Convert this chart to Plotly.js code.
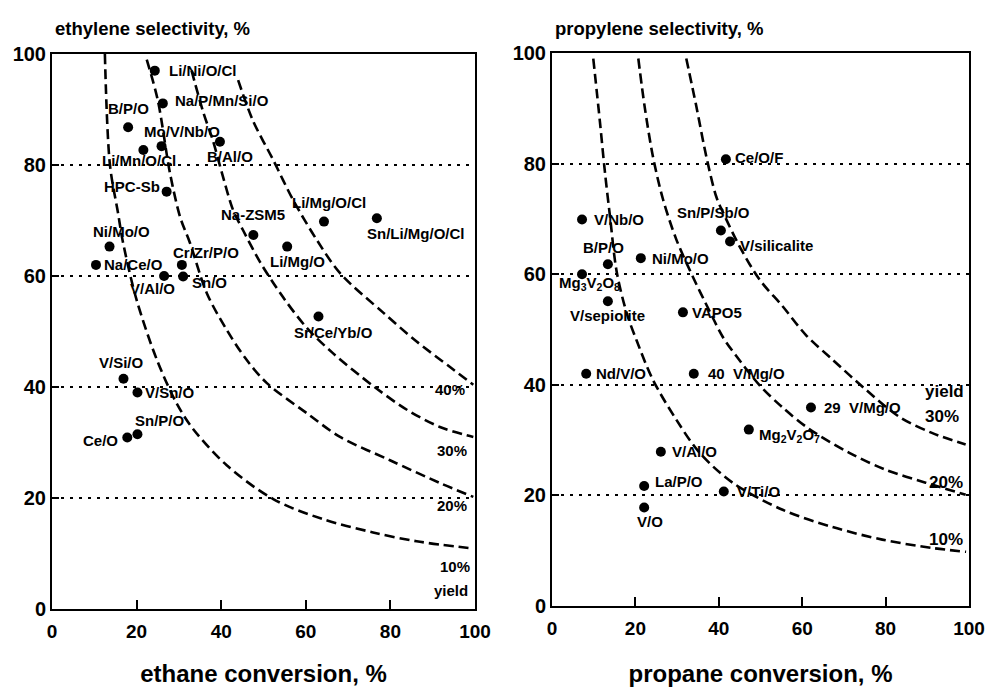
<!DOCTYPE html>
<html>
<head>
<meta charset="utf-8">
<script src="https://cdn.plot.ly/plotly-3.0.1.min.js"></script>
<style>html,body{margin:0;padding:0;background:#fff;}#chart{width:991px;height:687px;}</style>
</head>
<body>
<div id="chart"></div>
<script>
// ---------- DATA ----------
// Left panel: ethane ODH
var ethaneLabels = ["Li/Ni/O/Cl","Na/P/Mn/Si/O","B/P/O","Mo/V/Nb/O","Li/Mn/O/Cl","B/Al/O","HPC-Sb",
  "Li/Mg/O/Cl","Sn/Li/Mg/O/Cl","Na-ZSM5","Li/Mg/O","Sr/Ce/Yb/O","Ni/Mo/O","Na/Ce/O","Cr/Zr/P/O",
  "V/Al/O","Sn/O","V/Si/O","V/Sn/O","Sn/P/O","Ce/O"];
var ethaneConversion = [24.3,26.2,18.0,25.9,21.6,39.7,27.1,64.3,76.8,47.6,55.6,63.0,13.6,10.4,30.7,26.5,31.0,16.9,20.2,20.2,17.8];
var ethyleneSelectivity = [97.0,91.1,86.8,83.4,82.7,84.2,75.2,69.8,70.4,67.4,65.3,52.7,65.3,62.0,62.0,60.0,59.9,41.5,39.0,31.5,30.9];

// Left panel iso-yield curves
var eYield10x = [12.5,13.7,15.6,16.8,20.0,24.8,29.5,33.4,41.3,52.3,64.0,75.9,86.2,99.6];
var eYield10y = [100,80,71.4,66,55.7,44.9,37,32.4,25.9,19.8,16.2,13.8,12.2,10.9];
var eYield20x = [22.4,25.0,27.9,30.3,32.6,36.6,41.3,46.0,50.8,60.2,68.1,79.9,91.7,99.6];
var eYield20y = [99,91.7,78.5,70.6,66,56.9,50.3,44.9,40.7,35.3,31,26.8,22.7,20.2];
var eYield30x = [33.0,35.8,38.0,40.2,42.8,45.2,49.2,54.6,60.3,66.4,75.9,83.9,91.7,99.6];
var eYield30y = [97,89.4,84.5,78.5,71.9,68.2,62.5,56.2,50.6,46.1,40.2,35.9,32.8,31];
var eYield40x = [44.0,47.5,52.3,57.0,62.6,68.1,78.3,86.2,94.1,99.6];
var eYield40y = [95.3,88,80.9,73.7,66.5,60.5,53.4,48.2,43.6,40.4];
var eYieldLabels = ["40%","30%","20%","10%","yield"];

// Right panel: propane ODH
var propaneLabels = ["Ce/O/F","V/Nb/O","Sn/P/Sb/O","V/silicalite","B/P/O","Ni/Mo/O",
  "Mg<sub>3</sub>V<sub>2</sub>O<sub>8</sub>","V/sepiolite","VAPO5","Nd/V/O","40\u00a0 V/Mg/O","29\u00a0 V/Mg/O",
  "Mg<sub>2</sub>V<sub>2</sub>O<sub>7</sub>","V/Al/O","La/P/O","V/Ti/O","V/O"];
var propaneConversion = [41.7,7.2,40.5,42.7,13.4,21.3,7.2,13.4,31.4,8.2,34.0,62.1,47.2,26.1,22.1,41.2,22.1];
var propyleneSelectivity = [80.8,69.9,67.9,65.9,61.8,62.9,60.0,55.1,53.1,42.0,42.0,35.9,31.9,27.9,21.7,20.7,17.8];

var pYield10x = [9.9,11.5,12.7,13.9,15.5,17.9,20.3,24.2,29.8,35.4,43.3,55.3,67.2,79.2,91.1,99.3];
var pYield10y = [99,87.5,78.4,70.5,60.5,53,48,40.9,33.7,27.7,22.3,17.4,14.3,12,10.5,9.8];
var pYield20x = [20.7,22.2,24.2,26.6,29.8,33.8,37.8,41.0,44.2,49.8,55.3,61.7,71.3,80.1,89.6,99.2];
var pYield20y = [99,90.4,81.3,73.6,66.3,59.5,53.3,48.6,45.2,39.9,35.9,32.0,27.7,24.6,22.3,20.1];
var pYield30x = [32.2,34.6,37.0,39.4,41.0,45.0,49.8,55.3,60.9,67.2,75.3,83.3,91.1,99.2];
var pYield30y = [99,90.4,81.3,74,71.2,65,59,54.2,49,44.6,39.1,34.2,31.3,29.2];
var pYieldLabels = ["yield","30%","20%","10%"];

var tickValues = [0,20,40,60,80,100];

// ---------- PLACEMENT (label offsets in px: anchor, dx, dy) ----------
var ethaneLabelPos = [["left",12,0],["left",10,3],["center",0,19],["center",20,15],["center",-4,-10],
  ["center",10,-15],["right",-5,5],["center",5,19],["center",39,-15],["center",0,20],["center",10,-15],
  ["center",15,-16],["center",12,15],["left",6,0],["center",24,12],["center",-12,-12],["left",7,-6],
  ["center",-2,16],["left",6,0],["center",23,14],["right",-7,-3]];
var propaneLabelPos = [["left",7,2],["left",10,0],["center",-7,18],["left",8,-4],["center",-4,17],
  ["left",9,0],["center",7,-9],["center",0,-14],["left",7,0],["left",8,0],["left",12,0],["left",11,0],
  ["left",8,-6],["left",9,0],["left",9,5],["left",11,0],["center",6,-14]];
var eYieldLabelXY = [[90,39.5],[90.5,28.5],[90.5,18.7],[91.3,7.6],[89.8,3.4]];
var pYieldLabelXY = [[89,38.8],[89,34.2],[89.9,22.3],[89.9,12]];

// ---------- STYLE ----------
var FONT = "Liberation Sans, Arial, Helvetica, sans-serif";
var labelFont = {family: FONT, size: 15, color: "#000", weight: "bold"};
var dashLine = {color: "#000", width: 2.6, dash: "10px,5px", shape: "spline", smoothing: 0.9};

function curve(x, y, xa, ya) {
  return {x: x, y: y, xaxis: xa, yaxis: ya, mode: "lines", line: dashLine, hoverinfo: "skip", cliponaxis: true};
}

var traces = [
  curve(eYield10x, eYield10y, "x", "y"),
  curve(eYield20x, eYield20y, "x", "y"),
  curve(eYield30x, eYield30y, "x", "y"),
  curve(eYield40x, eYield40y, "x", "y"),
  curve(pYield10x, pYield10y, "x2", "y2"),
  curve(pYield20x, pYield20y, "x2", "y2"),
  curve(pYield30x, pYield30y, "x2", "y2"),
  {x: ethaneConversion, y: ethyleneSelectivity, xaxis: "x", yaxis: "y", mode: "markers",
   marker: {color: "#000", size: 10}, text: ethaneLabels, hoverinfo: "text"},
  {x: propaneConversion, y: propyleneSelectivity, xaxis: "x2", yaxis: "y2", mode: "markers",
   marker: {color: "#000", size: 10}, text: propaneLabels, hoverinfo: "text"}
];

var annotations = [];
ethaneLabels.forEach(function(t, i) {
  var p = ethaneLabelPos[i];
  annotations.push({x: ethaneConversion[i], y: ethyleneSelectivity[i], xref: "x", yref: "y", text: t,
    showarrow: false, xanchor: p[0], yanchor: "middle", xshift: p[1], yshift: p[2], font: labelFont});
});
propaneLabels.forEach(function(t, i) {
  var p = propaneLabelPos[i];
  annotations.push({x: propaneConversion[i], y: propyleneSelectivity[i], xref: "x2", yref: "y2", text: t,
    showarrow: false, xanchor: p[0], yanchor: "middle", xshift: p[1], yshift: p[2], font: labelFont});
});
eYieldLabels.forEach(function(t, i) {
  annotations.push({x: eYieldLabelXY[i][0], y: eYieldLabelXY[i][1], xref: "x", yref: "y", text: t,
    showarrow: false, xanchor: "left", yanchor: "middle", font: labelFont});
});
pYieldLabels.forEach(function(t, i) {
  annotations.push({x: pYieldLabelXY[i][0], y: pYieldLabelXY[i][1], xref: "x2", yref: "y2", text: t,
    showarrow: false, xanchor: "left", yanchor: "middle", font: {family: FONT, size: 17, color: "#000", weight: "bold"}});
});
annotations.push({x: 53/991, y: 1 - 28/687, xref: "paper", yref: "paper", xanchor: "left", yanchor: "middle",
  text: "ethylene selectivity, %", showarrow: false, font: {family: FONT, size: 18.5, color: "#000", weight: "bold"}});
annotations.push({x: 553/991, y: 1 - 28/687, xref: "paper", yref: "paper", xanchor: "left", yanchor: "middle",
  text: "propylene selectivity, %", showarrow: false, font: {family: FONT, size: 18.5, color: "#000", weight: "bold"}});

function xAxis(domain, title, anchor) {
  return {domain: domain, anchor: anchor, range: [0, 100], tickvals: tickValues, ticks: "inside", ticklen: 9,
    tickwidth: 2, tickcolor: "#000", showline: true, linewidth: 2, linecolor: "#000", mirror: true,
    showgrid: false, zeroline: false, fixedrange: true, ticklabelstandoff: 4,
    tickfont: {family: FONT, size: 19, color: "#000", weight: "bold"},
    title: {text: title, standoff: 28, font: {family: FONT, size: 24, color: "#000", weight: "bold"}}};
}
function yAxis(domain, anchor) {
  return {domain: domain, anchor: anchor, range: [0, 100], tickvals: tickValues, ticks: "inside", ticklen: 7,
    tickwidth: 2, tickcolor: "#000", showline: true, linewidth: 2, linecolor: "#000", mirror: true,
    showgrid: true, gridcolor: "#000", gridwidth: 2, griddash: "2.5px,6.5px", zeroline: false, fixedrange: true,
    tickfont: {family: FONT, size: 20, color: "#000", weight: "bold"}};
}

var layout = {
  width: 991, height: 687, margin: {l: 0, r: 0, t: 0, b: 0}, showlegend: false,
  paper_bgcolor: "#fff", plot_bgcolor: "#fff",
  xaxis: xAxis([52/991, 475/991], "ethane conversion, %", "y"),
  yaxis: yAxis([1 - 609/687, 1 - 54/687], "x"),
  xaxis2: xAxis([552/991, 969/991], "propane conversion, %", "y2"),
  yaxis2: yAxis([1 - 606/687, 1 - 53/687], "x2"),
  annotations: annotations
};

Plotly.newPlot("chart", traces, layout, {displayModeBar: false, staticPlot: true});
</script>
</body>
</html>
